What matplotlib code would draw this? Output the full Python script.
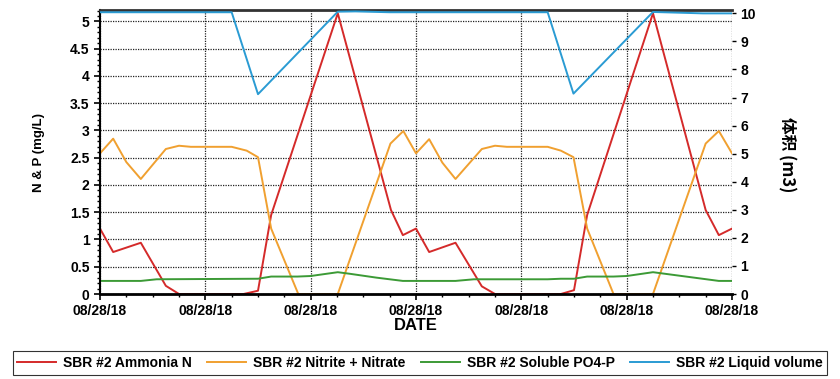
import matplotlib.pyplot as plt
from matplotlib.ticker import MultipleLocator
import numpy as np

plt.rcParams['font.family'] = ['Liberation Sans', 'Noto Sans CJK SC', 'DejaVu Sans']

# x in hours of the day (all ticks read 08/28/18)
ammonia_x = [0, 0.5, 1.55, 2.5, 3.0, 5.45, 6.0, 6.5, 9.03, 11.05, 11.5,
             12.0, 12.5, 13.5, 14.5, 15.0, 17.5, 18.0, 18.5, 21.0, 23.0, 23.5, 24.0]
ammonia_y = [1.20, 0.77, 0.94, 0.15, 0.0, 0.0, 0.06, 1.45, 5.15, 1.54, 1.08,
             1.20, 0.77, 0.94, 0.14, 0.0, 0.0, 0.07, 1.45, 5.15, 1.54, 1.08, 1.20]

nitrate_x = [0, 0.5, 1.0, 1.55, 2.5, 3.0, 3.45, 5.0, 5.57, 6.0, 6.5, 7.53, 9.03,
             11.03, 11.52, 12.0, 12.5, 13.0, 13.5, 14.5, 15.0, 15.45, 17.0, 17.5,
             17.98, 18.5, 19.5, 21.0, 23.0, 23.5, 24.0]
nitrate_y = [2.58, 2.85, 2.42, 2.11, 2.66, 2.72, 2.70, 2.70, 2.63, 2.51, 1.20, 0.0, 0.0,
             2.76, 2.99, 2.58, 2.84, 2.41, 2.11, 2.66, 2.72, 2.70, 2.70, 2.63,
             2.51, 1.20, 0.0, 0.0, 2.76, 2.99, 2.58]

po4_x = [0, 1.55, 2.15, 6.0, 6.5, 7.5, 8.0, 9.03, 9.5, 10.5, 11.5,
         12.0, 13.5, 14.2, 17.0, 17.5, 18.0, 18.5, 19.5, 20.0, 21.0, 23.5, 24.0]
po4_y = [0.24, 0.24, 0.27, 0.28, 0.32, 0.32, 0.33, 0.40, 0.37, 0.30, 0.24,
         0.24, 0.24, 0.27, 0.27, 0.28, 0.28, 0.32, 0.32, 0.33, 0.40, 0.24, 0.24]

volume_x = [0, 5.0, 6.0, 9.03, 9.7, 11.0, 12.0, 17.0, 17.98, 21.0, 22.9, 24.0]
volume_y = [10.04, 10.04, 7.12, 10.06, 10.07, 10.04, 10.04, 10.04, 7.14, 10.05, 10.0, 10.0]

date_ticks = [0, 4, 8, 12, 16, 20, 24]
date_labels = ['08/28/18'] * len(date_ticks)

c_red = '#d42a2a'
c_orange = '#f0a030'
c_green = '#3c9a36'
c_blue = '#2a9bd3'

fig = plt.figure(figsize=(8.4, 3.79), dpi=100)
ax = fig.add_axes([100 / 840, 85 / 379, 632 / 840, 284 / 379])
ax2 = ax.twinx()

l1, = ax.plot(ammonia_x, ammonia_y, color=c_red, lw=1.4, label='SBR #2 Ammonia N')
l2, = ax.plot(nitrate_x, nitrate_y, color=c_orange, lw=1.4, label='SBR #2 Nitrite + Nitrate')
l3, = ax.plot(po4_x, po4_y, color=c_green, lw=1.4, label='SBR #2 Soluble PO4-P')
l4, = ax2.plot(volume_x, volume_y, color=c_blue, lw=1.4, label='SBR #2 Liquid volume')

ax.set_xlim(0, 24)
ax.set_ylim(0, 5.21)
ax2.set_ylim(0, 10.12)

ax.set_xticks(date_ticks)
ax.set_xticklabels(date_labels)
ax.xaxis.set_minor_locator(MultipleLocator(1))
ax.yaxis.set_minor_locator(MultipleLocator(0.1))
ax.set_yticks(np.arange(0, 5.01, 0.5))
ax.set_yticklabels(['0', '0.5', '1', '1.5', '2', '2.5', '3', '3.5', '4', '4.5', '5'])
ax2.set_yticks(range(0, 11))

ax.grid(True, which='major', color='#222222', linestyle=(0, (1, 1)), lw=0.9)

for a in (ax, ax2):
    a.spines['right'].set_visible(False)
ax.spines['top'].set_color('#333333')
ax.spines['top'].set_linewidth(2)
ax.spines['bottom'].set_linewidth(2)
ax.spines['left'].set_linewidth(1.5)
ax2.spines['top'].set_visible(False)
ax2.spines['bottom'].set_visible(False)
ax2.spines['left'].set_visible(False)

ax.tick_params(axis='both', which='major', labelsize=10, length=4, width=1.2, direction='out')
ax.tick_params(axis='both', which='minor', length=2, width=1, direction='out')
ax.tick_params(axis='x', which='major', pad=3)
ax2.tick_params(axis='y', which='major', labelsize=10, length=3, width=1, direction='out', pad=3)
for lab in ax.get_xticklabels() + ax.get_yticklabels() + ax2.get_yticklabels():
    lab.set_fontweight('bold')

ax.set_xlabel('DATE', fontsize=12, fontweight='bold', labelpad=0)
ax.set_ylabel('N & P (mg/L)', fontsize=9.5, fontweight='bold')
ax.yaxis.set_label_coords(-0.087, 0.5)
ax2.set_ylabel('体积 (m3)', fontsize=12, fontweight='bold', rotation=-90,
               family=['Noto Sans CJK SC', 'DejaVu Sans'])
ax2.yaxis.set_label_coords(1.1, 0.49)

leg = fig.legend(handles=[l1, l2, l3, l4], loc='center', bbox_to_anchor=(0.5, 0.042),
                 ncol=4, frameon=True, fancybox=False, edgecolor='black',
                 handlelength=2.8, columnspacing=1.1, handletextpad=0.5,
                 borderpad=0.35, prop={'size': 10, 'weight': 'bold'})
leg.get_frame().set_linewidth(0.8)

fig.savefig('out.png', dpi=100)
